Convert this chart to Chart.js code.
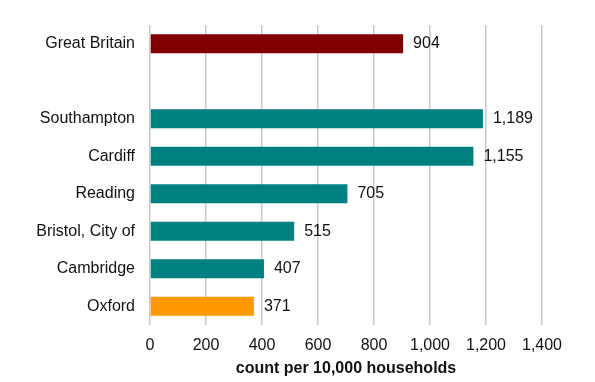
<!DOCTYPE html>
<html>
<head>
<meta charset="utf-8">
<script src="https://cdn.jsdelivr.net/npm/chart.js@4"></script>
<style>
  html, body { margin: 0; padding: 0; background: #fff; }
  #wrap { width: 595px; height: 382px; }
</style>
</head>
<body>
<div id="wrap"><canvas id="chart"></canvas></div>
<script>
// areas compared; the empty entry is a spacer row under Great Britain
const areas = ['Great Britain', '', 'Southampton', 'Cardiff', 'Reading', 'Bristol, City of', 'Cambridge', 'Oxford'];
const counts = [904, null, 1189, 1155, 705, 515, 407, 371];
const barColors = ['#800000', '#008080', '#008080', '#008080', '#008080', '#008080', '#008080', '#ff9900'];

const FONT = "'Liberation Sans', Arial, sans-serif";

// writes the value just past the end of each bar
const valueLabels = {
    id: 'valueLabels',
    afterDatasetsDraw(chart) {
        const ctx = chart.ctx;
        const meta = chart.getDatasetMeta(0);
        ctx.save();
        ctx.font = '16px ' + FONT;
        ctx.fillStyle = '#111';
        ctx.textAlign = 'left';
        ctx.textBaseline = 'middle';
        meta.data.forEach((bar, i) => {
            const v = counts[i];
            if (v === null) return;
            ctx.fillText(v.toLocaleString('en-GB'), bar.x + 10, bar.y);
        });
        ctx.restore();
    }
};

const ctx = document.getElementById('chart').getContext('2d');
new Chart(ctx, {
    type: 'bar',
    data: {
        labels: areas,
        datasets: [{
            data: counts,
            backgroundColor: barColors,
            borderWidth: 0,
            barPercentage: 0.51,
            categoryPercentage: 1
        }]
    },
    options: {
        indexAxis: 'y',
        responsive: true,
        maintainAspectRatio: false,
        animation: false,
        layout: {
            padding: {top: 25, right: 53, left: 0, bottom: 0}
        },
        plugins: {
            legend: {display: false},
            tooltip: {enabled: false}
        },
        scales: {
            x: {
                min: 0,
                max: 1400,
                border: {display: false},
                grid: {
                    color: '#c8c8c8',
                    lineWidth: 1.5,
                    drawTicks: false
                },
                ticks: {
                    stepSize: 200,
                    padding: 11,
                    color: '#111',
                    font: {family: FONT, size: 16},
                    callback: (v) => v.toLocaleString('en-GB')
                },
                title: {
                    display: true,
                    text: 'count per 10,000 households',
                    color: '#111',
                    font: {family: FONT, size: 16, weight: 'bold'},
                    padding: {top: 2, bottom: 4}
                },
                afterFit(scale) {
                    scale.height = 57;
                }
            },
            y: {
                border: {display: false},
                grid: {display: false, drawTicks: false},
                ticks: {
                    padding: 15,
                    color: '#111',
                    font: {family: FONT, size: 16}
                },
                afterFit(scale) {
                    scale.width = 150;
                }
            }
        }
    },
    plugins: [valueLabels]
});
</script>
</body>
</html>
